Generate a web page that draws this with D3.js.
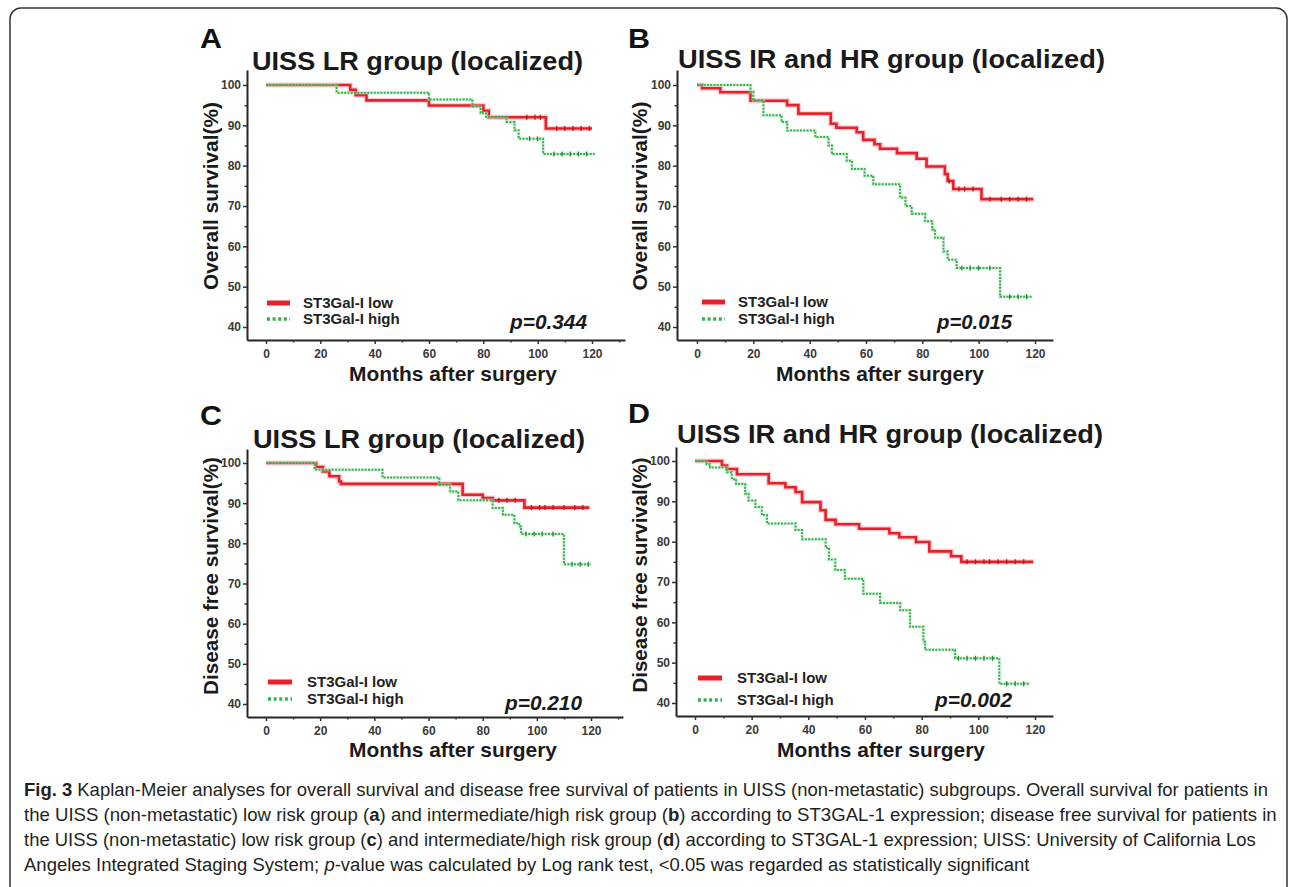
<!DOCTYPE html>
<html>
<head>
<meta charset="utf-8">
<script src="https://cdn.jsdelivr.net/npm/d3@7"></script>
<style>
  body { margin: 0; background: #fff; }
  svg { display: block; }
  text { font-family: "Liberation Sans", Arial, sans-serif; }
</style>
</head>
<body>
<svg id="canvas"></svg>
<script>
// tick values
const monthTicks = [0, 20, 40, 60, 80, 100, 120]
const monthMinor = [10, 30, 50, 70, 90, 110, 130]
const pctTicks = [40, 50, 60, 70, 80, 90, 100]
const pctMinor = [45, 55, 65, 75, 85, 95]

// Kaplan-Meier steps: [month, survival %] (value holds from this month on)
const osLrLow = [[0, 100], [31, 98.8], [33, 97.5], [37, 96.2], [60, 94.9], [80, 93.6], [82, 92.0], [103, 89.2], [120, 89.2]]
const osLrHigh = [[0, 100], [26, 98.1], [60, 96.4], [76, 94.7], [79, 93.0], [81, 92.1], [88.5, 90.8], [91.5, 88.8], [93, 86.7], [102, 82.9], [121, 82.9]]
const osIrHrLow = [[0, 100], [1.8, 99.2], [8.3, 98.2], [19, 96.1], [32, 95.0], [36, 92.9], [47.5, 90.4], [49.5, 89.4], [56.7, 88.3], [59, 86.4], [63, 85.3], [65, 84.2], [71, 83.1], [78, 81.7], [81.5, 79.8], [88, 77.9], [89, 76.2], [91, 74.2], [101, 71.7], [119.4, 71.7]]
const osIrHrHigh = [[0, 100], [19, 98.3], [20, 96.2], [23.6, 92.5], [30, 90.8], [32, 88.7], [42, 87.1], [46.7, 85.0], [47.9, 82.9], [53.2, 81.2], [55, 79.2], [59.5, 77.5], [62.6, 75.4], [72.1, 72.1], [74, 70.0], [76.2, 68.1], [81, 66.2], [83.5, 64.2], [84.5, 62.1], [87.5, 58.7], [89, 56.7], [92.2, 54.6], [107.6, 47.5], [118.8, 47.5]]
const dfsLrLow = [[0, 100], [18.5, 99.0], [21, 97.9], [23.4, 96.7], [27, 95.4], [27.7, 94.8], [72.6, 92.1], [80, 91.3], [83.7, 90.7], [95.4, 88.9], [119.4, 88.9]]
const dfsLrHigh = [[0, 100], [18, 98.3], [43, 96.4], [64, 94.6], [68, 92.9], [71, 90.7], [83.7, 88.8], [87.5, 87.1], [91.7, 85.0], [93.5, 84.2], [94.2, 82.3], [110, 74.8], [120, 74.8]]
const dfsIrHrLow = [[0, 100], [9.5, 98.9], [11.3, 98.0], [14.8, 96.7], [26, 94.5], [31.9, 93.5], [35.5, 92.3], [37.8, 89.8], [44.3, 87.8], [46.1, 85.4], [49.6, 84.3], [57.9, 83.2], [68.6, 82.1], [72.1, 81.1], [78, 79.9], [82.7, 77.6], [90.4, 76.4], [94, 75.0], [119.4, 75.0]]
const dfsIrHrHigh = [[0, 100], [4.1, 99.2], [5.3, 98.4], [11.2, 97.2], [13, 95.5], [14.5, 94.3], [17.7, 91.9], [18.9, 90.2], [21.3, 88.6], [23.6, 86.6], [25.4, 84.5], [35.5, 82.9], [37.8, 80.6], [46.1, 78.5], [47.3, 75.6], [49.5, 73.0], [52.9, 70.8], [59.4, 67.1], [65.3, 64.8], [72.4, 63.0], [75.9, 58.9], [80.6, 55.2], [81.2, 53.2], [91.8, 51.1], [107.4, 44.8], [118.2, 44.8]]

// censored months
const osLrLowCens = [96, 99, 101, 107, 110, 113, 116, 119]
const osLrHighCens = [97, 100, 106, 109, 112, 115, 118]
const osIrHrLowCens = [89.5, 93, 95, 98, 104, 108, 111, 114, 117]
const osIrHrHighCens = [94, 97, 100, 104, 111, 114, 117]
const dfsLrLowCens = [86, 89, 92, 98, 101, 103, 106, 110, 114, 117]
const dfsLrHighCens = [96, 99, 102, 106, 113, 116, 119]
const dfsIrHrLowCens = [96, 99, 102, 104, 107, 110, 113, 116]
const dfsIrHrHighCens = [93, 96, 99, 102, 105, 110, 113, 116]

const panelLetters = ['A', 'B', 'C', 'D']
const panelTitles = ['UISS LR group (localized)', 'UISS IR and HR group (localized)', 'UISS LR group (localized)', 'UISS IR and HR group (localized)']
const yTitles = ['Overall survival(%)', 'Overall survival(%)', 'Disease free survival(%)', 'Disease free survival(%)']
const xTitle = 'Months after surgery'
const pValues = ['p=0.344', 'p=0.015', 'p=0.210', 'p=0.002']
const seriesNames = ['ST3Gal-I low', 'ST3Gal-I high']

const lowSeries = [osLrLow, osIrHrLow, dfsLrLow, dfsIrHrLow]
const highSeries = [osLrHigh, osIrHrHigh, dfsLrHigh, dfsIrHrHigh]
const lowCens = [osLrLowCens, osIrHrLowCens, dfsLrLowCens, dfsIrHrLowCens]
const highCens = [osLrHighCens, osIrHrHighCens, dfsLrHighCens, dfsIrHrHighCens]

const captionLines = [
    [['Fig. 3', 'b'], [' Kaplan-Meier analyses for overall survival and disease free survival of patients in UISS (non-metastatic) subgroups. Overall survival for patients in', '']],
    [['the UISS (non-metastatic) low risk group (', ''], ['a', 'b'], [') and intermediate/high risk group (', ''], ['b', 'b'], [') according to ST3GAL-1 expression; disease free survival for patients in', '']],
    [['the UISS (non-metastatic) low risk group (', ''], ['c', 'b'], [') and intermediate/high risk group (', ''], ['d', 'b'], [') according to ST3GAL-1 expression; UISS: University of California Los', '']],
    [['Angeles Integrated Staging System; ', ''], ['p', 'i'], ['-value was calculated by Log rank test, <0.05 was regarded as statistically significant', '']]
]

// layout (pixels)
const layout = [
    { x0: 266, x120: 592, axL: 247, axR: 625, y100: 85, y40: 327, axT: 70, axB: 340, letter: [200, 48], title: [252, 583, 70], yt: [211, 196, 188], xt: [453, 381], leg: [267, 290, 303, 319, 303], p: [510, 587, 329] },
    { x0: 697, x120: 1035, axL: 677, axR: 1053, y100: 85, y40: 327, axT: 70, axB: 340, letter: [628, 48], title: [678, 1105, 68], yt: [640, 196, 189], xt: [880, 381], leg: [702, 725, 302, 319, 738], p: [937, 1012, 329] },
    { x0: 266, x120: 591, axL: 247, axR: 623, y100: 463, y40: 704, axT: 449, axB: 717, letter: [200, 425], title: [253, 585, 448], yt: [211, 576, 238], xt: [453, 757], leg: [268, 292, 682, 699, 307], p: [505, 582, 710] },
    { x0: 695, x120: 1035, axL: 676, axR: 1053, y100: 461, y40: 703, axT: 447, axB: 716, letter: [628, 423], title: [677, 1103, 443], yt: [640, 575, 235], xt: [881, 757], leg: [698, 722, 678, 700, 737], p: [935, 1012, 707] }
]

const width = 1292
const height = 887
const red = '#e8202a'
const green = '#33b24a'

let svg = d3.select('#canvas').attr('width', width).attr('height', height)

svg.append('rect')
    .attr('x', 10).attr('y', 8)
    .attr('width', 1277).attr('height', 920)
    .attr('rx', 11)
    .attr('fill', 'none')
    .attr('stroke', '#333')
    .attr('stroke-width', 1.5)

function valueAt(series, t) {
    let v = series[0][1]
    series.forEach(d => { if (d[0] <= t) v = d[1] })
    return v
}

layout.forEach((L, i) => {
    let x = d3.scaleLinear().domain([0, 120]).range([L.x0, L.x120])
    let y = d3.scaleLinear().domain([40, 100]).range([L.y40, L.y100])
    let xAx = d3.scaleLinear().domain([x.invert(L.axL), x.invert(L.axR)]).range([L.axL, L.axR])
    let yAx = d3.scaleLinear().domain([y.invert(L.axB), y.invert(L.axT)]).range([L.axB, L.axT])

    let g = svg.append('g')

    // axes
    let gx = g.append('g').attr('transform', `translate(0,${L.axB})`)
        .call(d3.axisBottom(xAx).tickValues(monthTicks).tickSize(4).tickSizeOuter(0).tickPadding(5))
    gx.append('g').call(d3.axisBottom(xAx).tickValues(monthMinor.filter(m => xAx(m) < L.axR)).tickSize(2.5).tickFormat(''))
    let gy = g.append('g').attr('transform', `translate(${L.axL},0)`)
        .call(d3.axisLeft(yAx).tickValues(pctTicks).tickSize(4).tickSizeOuter(0).tickPadding(2))
    gy.append('g').call(d3.axisLeft(yAx).tickValues(pctMinor).tickSize(2.5).tickFormat(''))

    g.selectAll('.domain').attr('stroke', '#262626').attr('stroke-width', 2)
    g.selectAll('.tick line').attr('stroke', '#333').attr('stroke-width', 1.5)
    g.selectAll('.tick text')
        .attr('font-family', '"Liberation Sans", Arial, sans-serif')
        .attr('font-size', 12).attr('font-weight', 'bold').attr('fill', '#3a3a3a')
    g.selectAll('.domain').filter(function () { return this.parentNode !== gx.node() && this.parentNode !== gy.node() }).remove()

    // curves
    let line = d3.line().x(d => x(d[0])).y(d => y(d[1])).curve(d3.curveStepAfter)

    g.append('path').datum(lowSeries[i]).attr('d', line)
        .attr('fill', 'none').attr('stroke', '#f5a3ab').attr('stroke-width', 5).attr('stroke-opacity', 0.55)
    g.append('path').datum(lowSeries[i]).attr('d', line)
        .attr('fill', 'none').attr('stroke', red).attr('stroke-width', 2.6)
    g.selectAll('.cl').data(lowCens[i]).enter().append('line')
        .attr('x1', d => x(d)).attr('x2', d => x(d))
        .attr('y1', d => y(valueAt(lowSeries[i], d)) - 2.5).attr('y2', d => y(valueAt(lowSeries[i], d)) + 2.5)
        .attr('stroke', '#b8141c').attr('stroke-width', 1.3)

    g.append('path').datum(highSeries[i]).attr('d', line)
        .attr('fill', 'none').attr('stroke', '#bfe7c6').attr('stroke-width', 3.5).attr('stroke-opacity', 0.5)
    g.append('path').datum(highSeries[i]).attr('d', line)
        .attr('fill', 'none').attr('stroke', green).attr('stroke-width', 2).attr('stroke-dasharray', '2,1.3')
    g.selectAll('.ch').data(highCens[i]).enter().append('line')
        .attr('x1', d => x(d)).attr('x2', d => x(d))
        .attr('y1', d => y(valueAt(highSeries[i], d)) - 2.5).attr('y2', d => y(valueAt(highSeries[i], d)) + 2.5)
        .attr('stroke', '#1f8a35').attr('stroke-width', 1.3)

    // texts
    g.append('text').attr('x', L.letter[0]).attr('y', L.letter[1])
        .attr('font-size', 28).attr('font-weight', 'bold').attr('fill', '#111')
        .attr('textLength', 22).attr('lengthAdjust', 'spacingAndGlyphs')
        .text(panelLetters[i])

    g.append('text').attr('x', L.title[0]).attr('y', L.title[2])
        .attr('font-size', 25).attr('font-weight', 'bold').attr('fill', '#1a1a1a')
        .attr('textLength', L.title[1] - L.title[0]).attr('lengthAdjust', 'spacingAndGlyphs')
        .text(panelTitles[i])

    g.append('text')
        .attr('transform', `translate(${L.yt[0]},${L.yt[1]}) rotate(-90)`)
        .attr('text-anchor', 'middle').attr('dy', '0.35em')
        .attr('font-size', 20).attr('font-weight', 'bold').attr('fill', '#1a1a1a')
        .attr('textLength', L.yt[2]).attr('lengthAdjust', 'spacingAndGlyphs')
        .text(yTitles[i])

    g.append('text').attr('x', L.xt[0]).attr('y', L.xt[1])
        .attr('text-anchor', 'middle')
        .attr('font-size', 21).attr('font-weight', 'bold').attr('fill', '#1a1a1a')
        .attr('textLength', 208).attr('lengthAdjust', 'spacingAndGlyphs')
        .text(xTitle)

    // legend
    let [lx1, lx2, ly1, ly2, tx] = L.leg
    g.append('line').attr('x1', lx1).attr('x2', lx2).attr('y1', ly1).attr('y2', ly1)
        .attr('stroke', red).attr('stroke-width', 5)
    g.append('line').attr('x1', lx1).attr('x2', lx2).attr('y1', ly2).attr('y2', ly2)
        .attr('stroke', green).attr('stroke-width', 3.5).attr('stroke-dasharray', '3,2.6')
    g.selectAll('.leg').data(seriesNames).enter().append('text')
        .attr('x', tx).attr('y', (d, k) => (k == 0 ? ly1 : ly2) + 5)
        .attr('font-size', 15).attr('font-weight', 'bold').attr('fill', '#222')
        .text(d => d)

    g.append('text').attr('x', L.p[0]).attr('y', L.p[2])
        .attr('font-size', 20).attr('font-weight', 'bold').attr('font-style', 'italic').attr('fill', '#1a1a1a')
        .attr('textLength', L.p[1] - L.p[0]).attr('lengthAdjust', 'spacingAndGlyphs')
        .text(pValues[i])
})

// caption: each line squeezed horizontally to its width in the figure
const capWidths = [1245, 1253, 1233, 1006]
const capY = [796, 821, 846, 871]

captionLines.forEach((segs, k) => {
    let gc = svg.append('g')
    let t = gc.append('text')
        .attr('x', 0).attr('y', 0)
        .attr('font-family', '"Liberation Sans", Arial, sans-serif')
        .attr('font-size', 18).attr('fill', '#231f20')
    segs.forEach(s => {
        t.append('tspan')
            .attr('font-weight', s[1] == 'b' ? 'bold' : null)
            .attr('font-style', s[1] == 'i' ? 'italic' : null)
            .text(s[0])
    })
    let len = t.node().getComputedTextLength()
    gc.attr('transform', `translate(24,${capY[k]}) scale(${capWidths[k] / len},1)`)
})
</script>
</body>
</html>
